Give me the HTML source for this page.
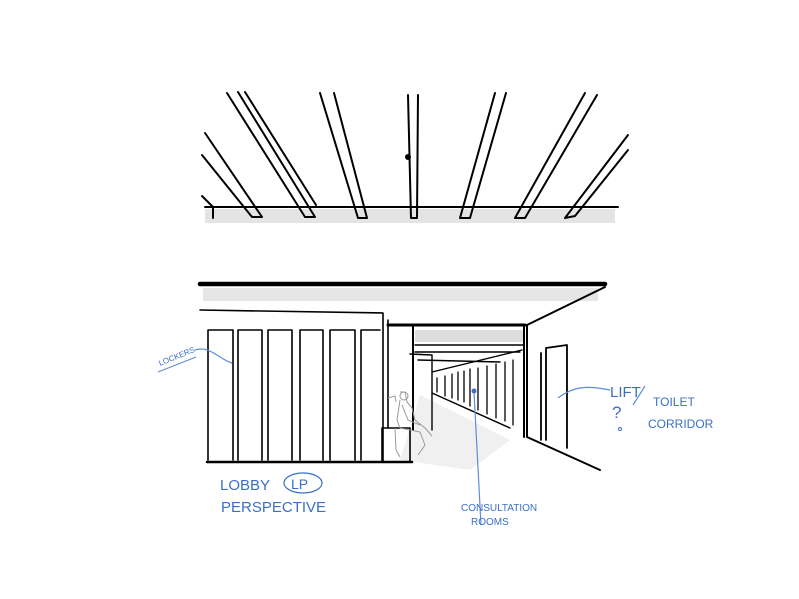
<!DOCTYPE html>
<html><head><meta charset="utf-8"><style>
html,body{margin:0;padding:0;background:#fff;}
svg{display:block;}
.b{fill:none;stroke:#000;stroke-linecap:round;stroke-linejoin:round;}
.g{fill:none;stroke:#999;stroke-width:1;}
.t{font-family:"Liberation Sans",sans-serif;fill:#3b6fc6;}
.bl{fill:none;stroke:#5b8ed8;stroke-width:1.2;}
</style></head><body>
<svg width="799" height="599" viewBox="0 0 799 599" xmlns="http://www.w3.org/2000/svg">
<!-- top ceiling shadows -->
<g fill="#e4e4e4">
<rect x="205" y="209" width="410" height="14"/>
</g>
<g class="b" stroke-width="2">
<path d="M205 207 L618 207"/>
<path d="M202 196 L213 207 L213 218"/>
<!-- beam1 -->
<path d="M205 133 L262 217 M202 155 L252 217 M252 217 L262 217"/>
<!-- beam2 -->
<path d="M227 93 L305 217 M238 92 L315 217 M245 92 L316 205 M305 217 L315 217"/>
<!-- beam3 -->
<path d="M320 93 L358 218 M334 93 L367 218 M358 218 L367 218"/>
<!-- beam4 -->
<path d="M408 95 L411 218 M418 95 L417 218 M411 218 L417 218"/>
<circle cx="408" cy="157" r="2" fill="#000"/>
<!-- beam5 -->
<path d="M495 93 L460 218 M506 93 L470 218 M460 218 L470 218"/>
<!-- beam6 -->
<path d="M585 93 L515 218 M597 95 L525 218 M515 218 L525 218"/>
<!-- beam7 -->
<path d="M628 135 L565 218 M628 150 L575 216 M565 218 L575 216"/>
</g>
<!-- lower ceiling -->
<rect x="203" y="288" width="395" height="13" fill="#e6e6e6"/>
<rect x="415" y="330" width="108" height="12" fill="#ddd"/>
<path d="M420 395 L510 440 L470 470 L400 460 Z" fill="#f0f0f0"/>
<g class="b">
<path d="M200 284 L605 284" stroke-width="4.5"/>
<path d="M605 287 L527 325" stroke-width="2"/>
<path d="M200 310 L383 313 L383 462" stroke-width="1.6"/>
<path d="M388 320 L388 428" stroke-width="1.6"/>
<path d="M388 325 L525 325" stroke-width="3"/>
<path d="M413 325 L413 430 M524 325 L524 437" stroke-width="2"/>
<path d="M415 345 L523 345 M415 352 L520 352 M410 354 L432 355 L432 430 M418 360 L500 362" stroke-width="1.4"/>
<path d="M432 372 L522 350 M432 393 L510 428" stroke-width="1.4"/>
<path d="M437 378 L437 392 M445 376 L445 396 M452 374 L452 398 M458 372 L458 400 M464 371 L464 402 M470 369 L470 406 M478 368 L478 410 M487 366 L487 414 M496 364 L496 418 M505 362 L505 421 M513 360 L513 425" stroke-width="1.3"/>
<!-- lockers -->
<path d="M207 462 L412 462" stroke-width="2.5"/>
<path d="M208 330 L208 460 M208 330 L233 330 L233 460 M238 330 L238 460 M238 330 L262 330 L262 460 M268 330 L268 460 M268 330 L292 330 L292 460 M300 330 L300 460 M300 330 L323 330 L323 460 M330 330 L330 460 M330 330 L355 330 L355 460 M361 330 L361 460 M361 330 L380 330" stroke-width="1.6"/>
<!-- bench -->
<path d="M382 428 L410 428 L410 462 L382 462 Z" stroke-width="1.6"/>
<!-- right wall -->
<path d="M527 325 L527 437 L600 470" stroke-width="2"/>
<path d="M541 353 L541 440 M546 348 L567 345 L567 448 M546 348 L546 440" stroke-width="1.8"/>
</g>
<!-- person -->
<g class="g">
<path d="M400 392 L405 392 L407 402 L412 408 L415 420 L425 428 L432 436 M400 400 L397 420 L400 428 L420 432 L425 445 L418 455 M402 405 L408 420 L420 425 M395 428 L396 450 L400 457 M388 398 L395 396 L396 402"/>
<circle cx="404" cy="396" r="4"/>
</g>
<!-- labels -->
<path class="bl" d="M158 372 L196 357 M195 350 C210 345 220 360 232 363"/>
<text class="t" font-size="8" transform="translate(160 366) rotate(-22)">LOCKERS</text>
<path class="bl" d="M474 392 L481 525"/>
<circle cx="474" cy="391" r="2.5" fill="#3b6fc6"/>
<path class="bl" d="M558 398 C575 385 590 386 610 390"/>
<path class="bl" d="M645 386 L633 405"/>
<text class="t" font-size="15" x="610" y="397">LIFT</text>
<text class="t" font-size="17" x="612" y="418">?</text>
<circle cx="620" cy="429" r="1.5" fill="none" stroke="#3b6fc6"/>
<text class="t" font-size="12" x="653" y="406">TOILET</text>
<text class="t" font-size="12" x="648" y="428">CORRIDOR</text>
<text class="t" font-size="15" x="220" y="490">LOBBY</text>
<ellipse cx="303" cy="483" rx="19" ry="10" fill="none" stroke="#3b6fc6" stroke-width="1.2"/>
<text class="t" font-size="14" x="291" y="489">LP</text>
<text class="t" font-size="15" x="221" y="512">PERSPECTIVE</text>
<text class="t" font-size="10" x="461" y="511">CONSULTATION</text>
<text class="t" font-size="10" x="471" y="525">ROOMS</text>
</svg>
</body></html>
